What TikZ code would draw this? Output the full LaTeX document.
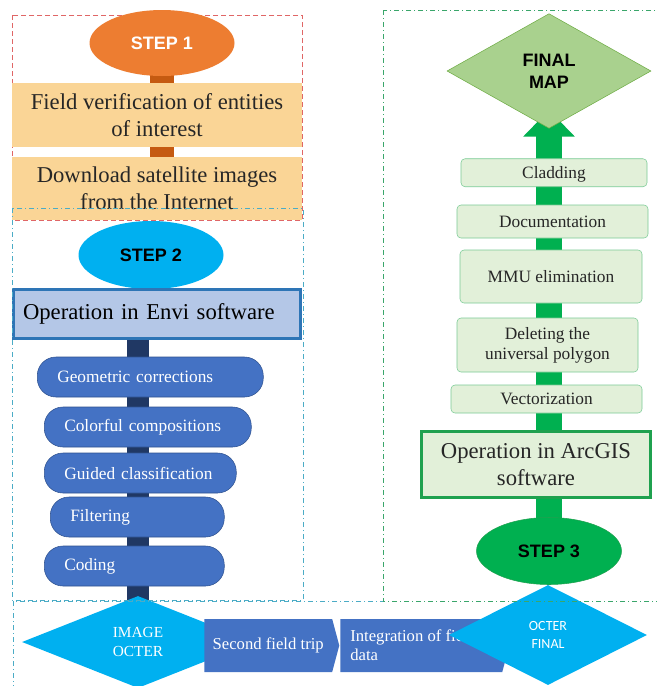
\documentclass[tikz,border=0pt]{standalone}
\usepackage{fontspec}
\setmainfont{Liberation Serif}
\setsansfont{Liberation Sans}
\newfontfamily\calibrifont{Carlito}
\usetikzlibrary{shapes.geometric,shapes.symbols,arrows.meta,backgrounds}

\definecolor{steporange}{HTML}{ED7D31}
\definecolor{obarcol}{HTML}{C55A11}
\definecolor{boxorange}{HTML}{FAD596}
\definecolor{stepblue}{HTML}{00B0F0}
\definecolor{envifill}{HTML}{B4C7E7}
\definecolor{enviline}{HTML}{2E75B6}
\definecolor{navybar}{HTML}{203864}
\definecolor{pillblue}{HTML}{4472C4}
\definecolor{pillline}{HTML}{2F528F}
\definecolor{fmapfill}{HTML}{A9D18E}
\definecolor{fmapline}{HTML}{70AD47}
\definecolor{arrowgreen}{HTML}{00B050}
\definecolor{gboxfill}{HTML}{E2F0D9}
\definecolor{gboxline}{HTML}{7ACB95}
\definecolor{arcline}{HTML}{1FA14F}
\definecolor{redframe}{HTML}{E06666}
\definecolor{tealframe}{HTML}{4BACC6}
\definecolor{greenframe}{HTML}{3AA66B}

\begin{document}
\begin{tikzpicture}[
    x=0.75pt, y=-0.75pt,
    stepell/.style={ellipse, inner sep=0pt, minimum width=108.75pt,
        font=\sffamily\bfseries\fontsize{13.5}{16}\selectfont},
    obox/.style={draw=none, fill=boxorange, minimum width=217.5pt,
        inner sep=0pt, align=center, text=black!85,
        font=\fontsize{17}{20}\selectfont},
    pill/.style={draw=pillline, fill=pillblue, rounded corners=14pt,
        minimum height=30pt, inner xsep=15pt, inner ysep=0pt, align=left,
        anchor=west, text=white, font=\fontsize{13}{15}\selectfont},
    gbox/.style={draw=gboxline, fill=gboxfill, rounded corners=3pt,
        inner sep=0pt, align=center, text=black!85,
        font=\fontsize{13}{15}\selectfont},
    octer/.style={diamond, fill=stepblue, inner sep=0pt, align=center,
        text=white},
    flowbox/.style={signal, signal to=east, signal pointer angle=150,
        fill=pillblue, minimum height=39.75pt, text=white,
        font=\fontsize{12.5}{14}\selectfont},
    obar/.style={line width=18pt, draw=obarcol},
    nbar/.style={line width=17pt, draw=navybar},
    garrow/.style={line width=19.5pt, draw=arrowgreen,
        -{Triangle[width=37.5pt, length=20pt]}, shorten >=-14pt},
    frame/.style={line width=0.6pt, dash pattern=on 4pt off 2pt on 1pt off 2pt}
]

\useasboundingbox (0,0) rectangle (657,686);

%------------------------------------------------
% step 1
%------------------------------------------------
\node[stepell, fill=steporange, minimum height=49.5pt, text=white]
    (step1) at (162,43) {STEP 1};
\node[obox, minimum height=48pt] (field) at (157,115)
    {Field verification of entities\\of interest};
\node[obox, minimum height=47.25pt] (dload) at (157,188.5)
    {Download satellite images\\from the Internet};

%------------------------------------------------
% step 2
%------------------------------------------------
\node[stepell, fill=stepblue, minimum height=51pt, text=black]
    (step2) at (151,255) {STEP 2};
\node[draw=enviline, line width=2.25pt, fill=envifill,
    minimum width=215.25pt, minimum height=36.75pt, inner ysep=0pt,
    inner xsep=7pt, text width=201pt, align=left,
    font=\fontsize{17}{20}\selectfont] (envi) at (157,314)
    {Operation in Envi software};

\node[pill, text width=139.5pt] (geo)    at (37,377) {Geometric corrections};
\node[pill, text width=125.25pt] (color) at (44,427) {Colorful compositions};
\node[pill, text width=114pt] (guided)   at (44,473) {Guided classification};
\node[pill, text width=100.5pt] (filt)   at (50,517) {Filtering};
\node[pill, text width=105pt] (coding)   at (44,566) {Coding};

%------------------------------------------------
% bottom row
%------------------------------------------------
\node[octer, minimum width=174pt, minimum height=69pt,
    font=\fontsize{11.5}{14}\selectfont] (imgoct) at (138,642)
    {IMAGE\\OCTER};
\node[flowbox, anchor=west, minimum width=101.25pt] (trip) at (204,645.5)
    {Second field trip};
\node[flowbox, anchor=west, text width=106.5pt, inner xsep=7.5pt,
    align=flush left] (integ) at (340,645.5)
    {Integration of field\\data};
\node[octer, minimum width=148.5pt, minimum height=75pt,
    font=\calibrifont\fontsize{10.5}{14}\selectfont] (finoct) at (548,635)
    {OCTER\\FINAL};

%------------------------------------------------
% step 3
%------------------------------------------------
\node[stepell, draw=arcline, fill=arrowgreen, minimum height=50.25pt,
    text=black] (step3) at (549,551) {STEP 3};
\node[draw=arcline, line width=2.25pt, fill=gboxfill,
    minimum width=171.75pt, minimum height=49.5pt, inner sep=0pt,
    align=center, text=black!85, font=\fontsize{17}{20}\selectfont]
    (arcgis) at (536,464.5) {Operation in ArcGIS\\software};

\node[gbox, minimum width=143.25pt, minimum height=21pt] (vect)
    at (546.5,399) {Vectorization};
\node[gbox, minimum width=135.75pt, minimum height=40.5pt] (dele)
    at (547.5,345) {Deleting the\\universal polygon};
\node[gbox, minimum width=136.5pt, minimum height=39.75pt] (mmu)
    at (551,276.5) {MMU elimination};
\node[gbox, minimum width=143.25pt, minimum height=24.75pt] (docu)
    at (552.5,221.5) {Documentation};
\node[gbox, minimum width=139.5pt, minimum height=21pt, text depth=0pt,
    inner ysep=0pt, anchor=south] (clad)
    at (554,187) {Cladding};

\node[diamond, draw=fmapline, fill=fmapfill, inner sep=0pt,
    minimum width=153pt, minimum height=86pt, align=center,
    font=\sffamily\bfseries\fontsize{13.5}{16.5}\selectfont]
    (fmap) at (549,71) {FINAL\\MAP};

%------------------------------------------------
% spojovaci pruhy
%------------------------------------------------
\begin{pgfonlayer}{background}
\fill[white] (0,0) rectangle (657,686);
\draw[frame, redframe, dash pattern=on 4pt off 2pt] (12,15) rectangle (302,220);
\draw[obar] (step1.center) -- (step1.center |- dload.center);
\draw[nbar] (imgoct.center |- envi.center) -- (imgoct.center);
\draw[garrow] (step3.center) -- (fmap);
\end{pgfonlayer}

% ramecky
\draw[frame, tealframe] (12,208) rectangle (303,600);
\draw[frame, tealframe] (13,601) rectangle (670,700);
\draw[frame, greenframe] (383,10) rectangle (670,601);

\end{tikzpicture}
\end{document}
